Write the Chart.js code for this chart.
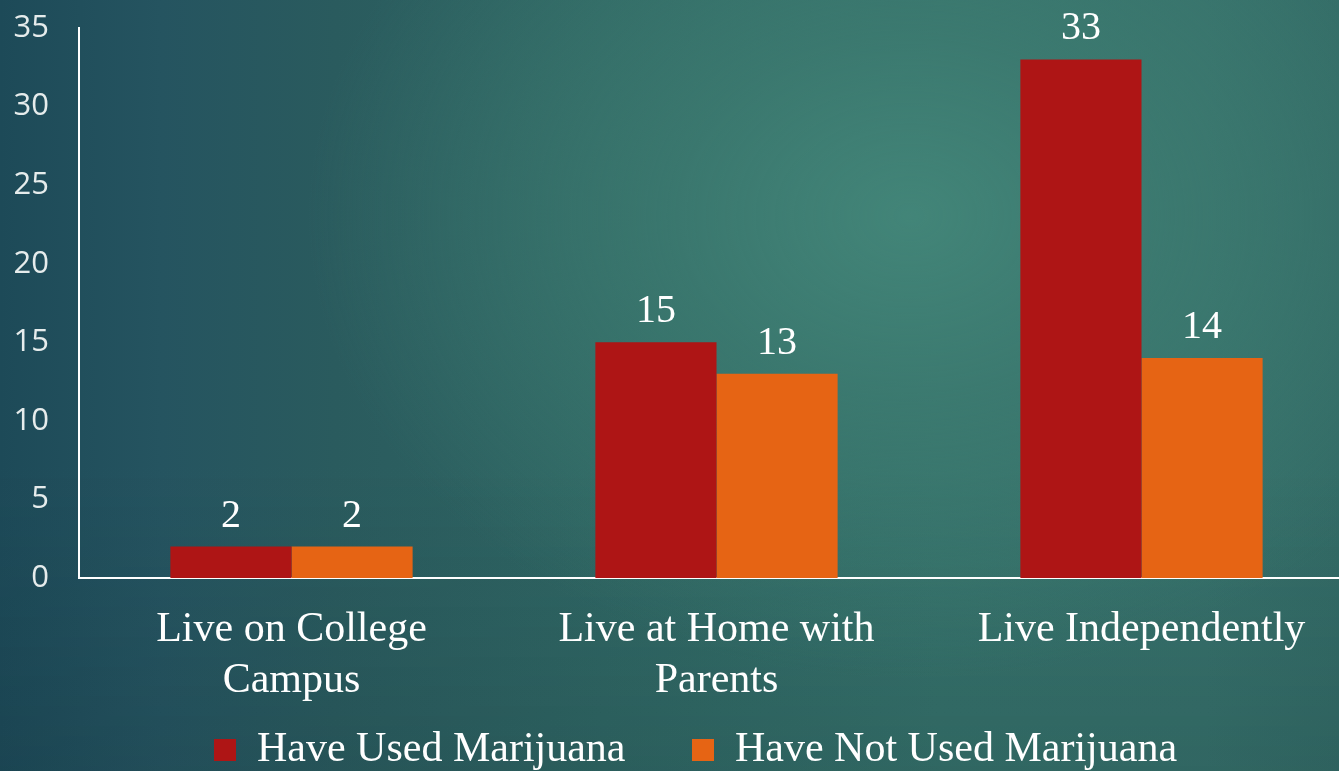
<!DOCTYPE html>
<html>
<head>
<meta charset="utf-8">
<script src="https://cdn.jsdelivr.net/npm/chart.js@4.4.0/dist/chart.umd.min.js"></script>
<style>
  html, body { margin: 0; padding: 0; width: 1339px; height: 771px; overflow: hidden; }
  body {
    background:
      radial-gradient(ellipse 45% 60% at 68% 28%, rgba(67,134,121,0.95) 0%, rgba(62,125,114,0.7) 40%, rgba(55,112,105,0) 100%),
      linear-gradient(180deg, rgba(0,0,0,0) 60%, rgba(10,30,40,0.12) 100%),
      linear-gradient(90deg, #1d4a58 0%, #255460 12%, #2a5b5e 25%, #2f6663 45%, #35716a 70%, #36706a 90%, #336b66 100%);
  }
  #wrap { position: absolute; left: 0; top: 0; width: 1355px; height: 771px; }
</style>
</head>
<body>
<div id="wrap"><canvas id="c"></canvas></div>
<script>
const categories = [["Live on College", "Campus"], ["Live at Home with", "Parents"], ["Live Independently"]];
const seriesNames = ["Have Used Marijuana", "Have Not Used Marijuana"];
const usedValues = [2, 15, 33];
const notUsedValues = [2, 13, 14];
const yTicks = [0, 5, 10, 15, 20, 25, 30, 35];

const RED = '#AE1515';
const ORANGE = '#E66414';
const SERIF = '"Liberation Serif", "Times New Roman", serif';
const SANS = '"Open Sans", "DejaVu Sans", sans-serif';
// trailing spaces widen legend items to reproduce the reference spacing
const legendGaps = ['\u00A0\u00A0\u00A0\u00A0\u00A0', '\u00A0\u00A0\u00A0\u00A0'];

const valueLabels = {
  id: 'valueLabels',
  afterDatasetsDraw(chart) {
    const ctx = chart.ctx;
    ctx.save();
    ctx.fillStyle = '#ffffff';
    ctx.font = '40px ' + SERIF;
    ctx.textAlign = 'center';
    ctx.textBaseline = 'alphabetic';
    chart.data.datasets.forEach((ds, i) => {
      const meta = chart.getDatasetMeta(i);
      meta.data.forEach((bar, j) => {
        ctx.fillText(String(ds.data[j]), bar.x, bar.y - 20);
      });
    });
    ctx.restore();
  }
};

new Chart(document.getElementById('c'), {
  type: 'bar',
  data: {
    labels: categories,
    datasets: [
      { label: seriesNames[0], data: usedValues, backgroundColor: RED, borderWidth: 0 },
      { label: seriesNames[1], data: notUsedValues, backgroundColor: ORANGE, borderWidth: 0 }
    ]
  },
  options: {
    responsive: true,
    maintainAspectRatio: false,
    animation: false,
    layout: { padding: { top: 28, left: 13, right: 1, bottom: -10 } },
    datasets: { bar: { barPercentage: 1.0, categoryPercentage: 0.57 } },
    plugins: {
      tooltip: { enabled: false },
      legend: {
        position: 'bottom',
        fullSize: false,
        labels: {
          color: '#ffffff',
          font: { family: SERIF, size: 42 },
          boxWidth: 22,
          boxHeight: 22,
          padding: 14,
          generateLabels(chart) {
            return chart.data.datasets.map((ds, i) => ({
              text: ds.label + legendGaps[i],
              fillStyle: ds.backgroundColor,
              strokeStyle: ds.backgroundColor,
              lineWidth: 0,
              fontColor: '#ffffff',
              hidden: false,
              datasetIndex: i
            }));
          }
        }
      }
    },
    scales: {
      x: {
        grid: { display: false, drawTicks: false },
        border: { display: true, color: '#ffffff', width: 2 },
        ticks: { color: '#ffffff', font: { family: SERIF, size: 42, lineHeight: 1.2 }, padding: 27, maxRotation: 0, autoSkip: false },
        afterFit(scale) { scale.height = 137; scale.paddingLeft = 0; scale.paddingRight = 0; }
      },
      y: {
        min: 0, max: 35,
        afterBuildTicks(scale) { scale.ticks = yTicks.map(v => ({ value: v })); },
        grid: { display: false, drawTicks: false },
        border: { display: true, color: '#ffffff', width: 2 },
        ticks: { color: '#e6ecec', font: { family: SANS, size: 31 }, padding: 30 },
        afterFit(scale) { scale.width = 66; scale.paddingTop = 0; scale.paddingBottom = 0; }
      }
    }
  },
  plugins: [valueLabels]
});
</script>
</body>
</html>
